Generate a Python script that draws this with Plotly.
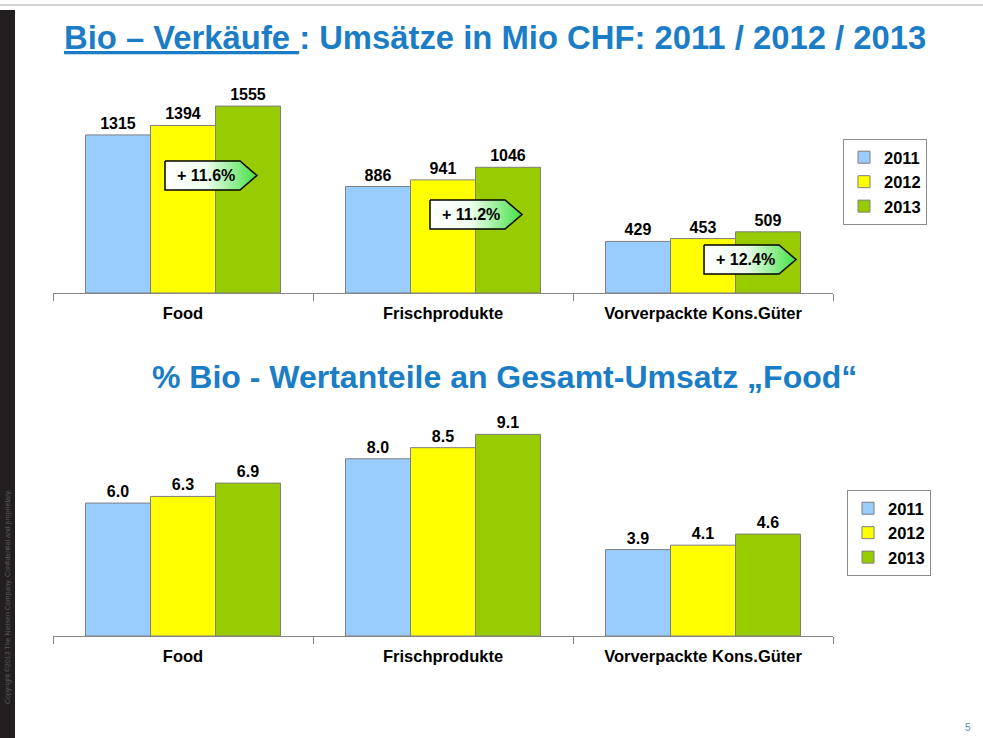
import plotly.graph_objects as go

# ---------------- data ----------------
categories = ["Food", "Frischprodukte", "Vorverpackte Kons.Güter"]
years = ["2011", "2012", "2013"]
sales_2011 = [1315, 886, 429]
sales_2012 = [1394, 941, 453]
sales_2013 = [1555, 1046, 509]
share_2011 = [6.0, 8.0, 3.9]
share_2012 = [6.3, 8.5, 4.1]
share_2013 = [6.9, 9.1, 4.6]
growth_labels = ["+ 11.6%", "+ 11.2%", "+ 12.4%"]

colors = ["#99CCFF", "#FFFF00", "#99CC00"]
W, H = 983, 738
FONT = "Liberation Sans, Arial, sans-serif"
BLUE = "#1A7DC6"

fig = go.Figure()

sales = [sales_2011, sales_2012, sales_2013]
shares = [share_2011, share_2012, share_2013]
for i, yr in enumerate(years):
    fig.add_trace(go.Bar(
        x=categories, y=sales[i], name=yr, xaxis="x", yaxis="y",
        marker=dict(color=colors[i], line=dict(color="#7F7F7F", width=1)),
        text=[str(v) for v in sales[i]], textposition="outside",
        textfont=dict(family=FONT, size=16, color="black", weight="bold"),
        cliponaxis=False, legend="legend", legendgroup="a" + yr,
    ))
for i, yr in enumerate(years):
    fig.add_trace(go.Bar(
        x=categories, y=shares[i], name=yr, xaxis="x2", yaxis="y2",
        marker=dict(color=colors[i], line=dict(color="#7F7F7F", width=1)),
        text=[f"{v:.1f}" for v in shares[i]], textposition="outside",
        textfont=dict(family=FONT, size=16, color="black", weight="bold"),
        cliponaxis=False, legend="legend2", legendgroup="b" + yr,
    ))

# growth callouts (pixel-positioned overlay)
callout_pos = [(165, 161), (430, 200), (704, 245)]
cw, tip, ch = 75, 17, 29
for (L, T), lab in zip(callout_pos, growth_labels):
    xs = [L, L + cw, L + cw + tip, L + cw, L, L]
    ys = [T, T, T + ch / 2, T + ch, T + ch, T]
    fig.add_trace(go.Scatter(
        x=xs, y=ys, xaxis="x3", yaxis="y3", mode="lines", fill="toself",
        line=dict(color="black", width=1.5),
        fillgradient=dict(type="horizontal", start=L, stop=L + cw + tip,
                          colorscale=[[0, "#FFFFFF"], [0.45, "#EEFFEE"], [1, "#44E044"]]),
        showlegend=False, hoverinfo="skip",
    ))
    fig.add_annotation(x=(L + 41) / W, y=1 - (T + ch / 2) / H, xref="paper", yref="paper",
                       xanchor="center", yanchor="middle",
                       text=lab, showarrow=False,
                       font=dict(family=FONT, size=16, color="black", weight="bold"))

cat_axis = dict(type="category", showline=True, linecolor="#868686", linewidth=1,
                ticks="outside", tickson="boundaries", ticklen=7, tickcolor="#868686",
                ticklabelstandoff=5,
                tickfont=dict(family=FONT, size=16.5, color="black", weight="bold"),
                showgrid=False, zeroline=False, fixedrange=True)
val_axis = dict(visible=False, showgrid=False, zeroline=False, fixedrange=True)

legend_common = dict(xanchor="left", yanchor="top", bordercolor="#8C8C8C", borderwidth=1,
                     bgcolor="white", tracegroupgap=0, itemwidth=30,
                     font=dict(family=FONT, size=16.5, color="black", weight="bold"))

xdom = [53 / W, 833 / W]
fig.update_layout(
    width=W, height=H, margin=dict(l=0, r=0, t=0, b=0),
    paper_bgcolor="white", plot_bgcolor="rgba(0,0,0,0)",
    barmode="group", bargap=0.25, bargroupgap=0,
    xaxis=dict(cat_axis, domain=xdom, anchor="y"),
    yaxis=dict(val_axis, domain=[1 - 293 / H, 1 - 80 / H], range=[0, 1772], anchor="x"),
    xaxis2=dict(cat_axis, domain=xdom, anchor="y2"),
    yaxis2=dict(val_axis, domain=[1 - 636 / H, 1 - 410 / H], range=[0, 10.2], anchor="x2"),
    xaxis3=dict(visible=False, domain=[0, 1], range=[0, W], anchor="y3", fixedrange=True),
    yaxis3=dict(visible=False, domain=[0, 1], range=[H, 0], anchor="x3", fixedrange=True),
    legend=dict(legend_common, x=843 / W, y=1 - 139 / H),
    legend2=dict(legend_common, x=847 / W, y=1 - 490 / H),
    showlegend=True,
)

# titles
fig.add_annotation(
    x=62 / W, y=1 - 37 / H, xref="paper", yref="paper", xanchor="left", yanchor="middle",
    text='<span style="text-decoration:underline">Bio – Verkäufe </span>: Umsätze in Mio CHF: 2011 / 2012 / 2013',
    showarrow=False,
    font=dict(family=FONT, size=32.8, color=BLUE, weight="bold"))
fig.add_annotation(
    x=504 / W, y=1 - 377 / H, xref="paper", yref="paper", xanchor="center", yanchor="middle",
    text="% Bio - Wertanteile an Gesamt-Umsatz „Food“", showarrow=False,
    font=dict(family=FONT, size=32, color=BLUE, weight="bold"))

# decorations
fig.add_shape(type="rect", xref="paper", yref="paper", x0=0, x1=15 / W, y0=0, y1=1 - 10 / H,
              fillcolor="#231F20", line=dict(width=0), layer="below")
fig.add_shape(type="line", xref="paper", yref="paper", x0=0, x1=1, y0=1 - 5 / H, y1=1 - 5 / H,
              line=dict(color="#D4D4D4", width=2))
fig.add_annotation(x=8 / W, y=1 - 597 / H, xref="paper", yref="paper", textangle=-90,
                   xanchor="center", yanchor="middle",
                   text="Copyright ©2013 The Nielsen Company. Confidential and proprietary.",
                   showarrow=False, font=dict(family=FONT, size=7, color="#5A5A5A"))
fig.add_annotation(x=968 / W, y=1 - 727 / H, xref="paper", yref="paper",
                   xanchor="center", yanchor="middle",
                   text="5", showarrow=False, font=dict(family=FONT, size=10, color="#4F8FC0"))

fig.write_html("out.html", config={"displayModeBar": False},
               post_script="document.body.style.margin='0';")
